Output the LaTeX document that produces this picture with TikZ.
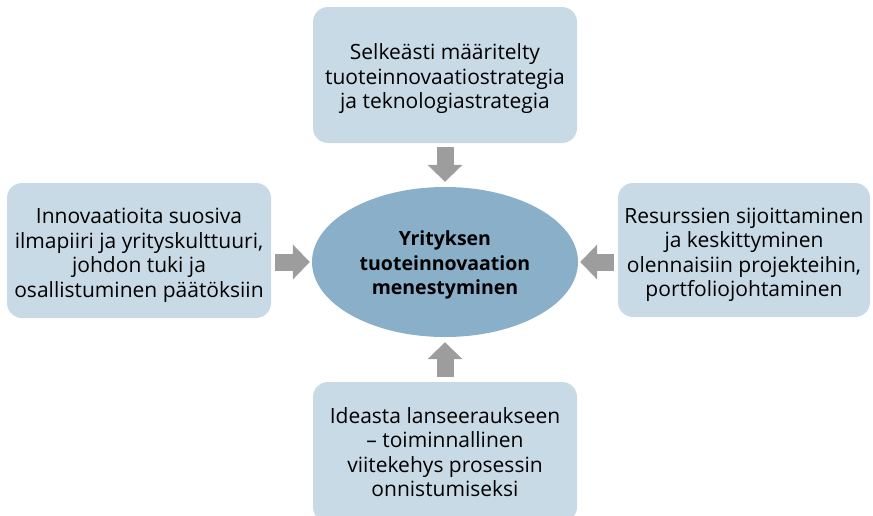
\documentclass[tikz,border=0pt]{standalone}
\usepackage{fontspec}
\setmainfont{Open Sans}
\usetikzlibrary{shapes.geometric,arrows.meta}
\definecolor{boxfill}{HTML}{C8DAE6}
\definecolor{corefill}{HTML}{89AFC9}
\definecolor{arrowgray}{HTML}{9D9D9D}
\begin{document}
\begin{tikzpicture}[x=1pt,y=-1pt,
  factor/.style={fill=boxfill, rounded corners=15pt, minimum width=264pt,
    minimum height=136pt, inner sep=0pt},
  factortext/.style={align=center, inner sep=0pt,
    font=\fontsize{21}{24.5}\selectfont},
  core/.style={ellipse, fill=corefill, minimum width=266pt, minimum height=150pt,
    inner sep=0pt},
  coretext/.style={align=center, inner sep=0pt,
    font=\fontsize{19.5}{24.5}\selectfont\bfseries},
  feed/.style={draw=arrowgray, line width=17pt,
    -{Triangle[width=34pt,length=17pt,fill=arrowgray]}}]
  \useasboundingbox (0,0) rectangle (873,515);
  % central ellipse and the four surrounding factors
  \node[core] (core) at (445,262) {};
  \node[factor] (top) at (445,75) {};
  \node[factor, minimum height=135pt] (left) at (139,250.5) {};
  \node[factor, minimum width=252pt, minimum height=134pt] (right) at (744,250) {};
  \node[factor, minimum height=140pt] (bottom) at (445,452) {};
  % texts, set slightly below the shape centres
  \node[coretext] (coret) at ([yshift=-3pt]core.center) {Yrityksen\\tuoteinnovaation\\menestyminen};
  \node[factortext] (topt) at ([yshift=-4pt]top.center) {Selkeästi määritelty\\tuoteinnovaatiostrategia\\ja teknologiastrategia};
  \node[factortext] (leftt) at ([yshift=-5pt]left.center)
    {Innovaatioita suosiva\\ilmapiiri ja yrityskulttuuri,\\johdon tuki ja\\osallistuminen päätöksiin};
  \node[factortext] (rightt) at ([yshift=-5pt]right.center)
    {Resurssien sijoittaminen\\ja keskittyminen\\olennaisiin projekteihin,\\portfoliojohtaminen};
  \node[factortext] (bottomt) at (bottom.center)
    {Ideasta lanseeraukseen\\– toiminnallinen\\viitekehys prosessin\\onnistumiseksi};
  % block arrows pointing at the ellipse
  \draw[feed, shorten <=4pt, shorten >=5pt] (top.south) -- (core.north);
  \draw[feed, shorten <=5pt, shorten >=5pt] (bottom.north) -- (core.south);
  \draw[feed, shorten <=4pt, shorten >=2pt] (left.east |- core.west) -- (core.west);
  \draw[feed, shorten <=4pt, shorten >=2pt] (right.west |- core.east) -- (core.east);
\end{tikzpicture}
\end{document}
